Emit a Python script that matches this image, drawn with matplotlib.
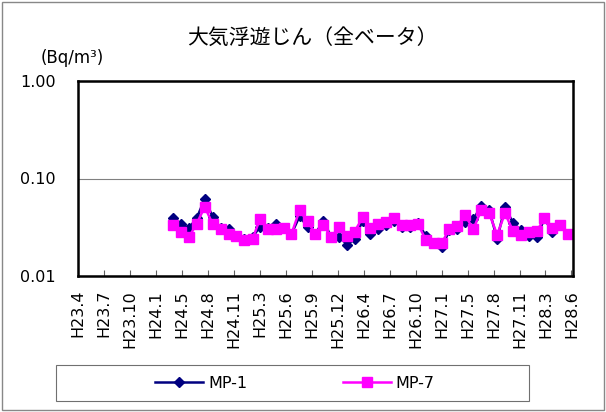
import matplotlib
matplotlib.use("Agg")
import matplotlib.pyplot as plt
import matplotlib.dates as mdates
from matplotlib.patches import Rectangle
from matplotlib.lines import Line2D
import numpy as np
import pandas as pd

# monthly sampling, H24.4 (2012-04) .. H28.6 (2016-06)
months = pd.date_range("2012-04-01", periods=51, freq="MS")

mp1 = [0.039, 0.034, 0.031, 0.039, 0.062, 0.040, 0.031, 0.030, 0.026, 0.024,
       0.025, 0.032, 0.031, 0.034, 0.031, 0.027, 0.041, 0.032, 0.027, 0.037,
       0.025, 0.025, 0.021, 0.024, 0.037, 0.027, 0.030, 0.033, 0.037, 0.032,
       0.032, 0.035, 0.0255, 0.022, 0.020, 0.0295, 0.030, 0.036, 0.038, 0.052,
       0.048, 0.024, 0.051, 0.035, 0.0295, 0.0255, 0.025, 0.039, 0.028, 0.033,
       0.027]
mp7 = [0.0335, 0.028, 0.025, 0.0345, 0.051, 0.034, 0.030, 0.027, 0.026, 0.0235,
       0.024, 0.038, 0.0305, 0.0305, 0.031, 0.027, 0.047, 0.0365, 0.027, 0.0335,
       0.025, 0.032, 0.026, 0.0285, 0.040, 0.031, 0.034, 0.0355, 0.0395, 0.0335,
       0.0335, 0.0338, 0.0232, 0.022, 0.022, 0.0307, 0.0328, 0.042, 0.030, 0.047,
       0.044, 0.0265, 0.044, 0.029, 0.0265, 0.0285, 0.029, 0.039, 0.031, 0.0335,
       0.027]

tick_labels = ["H23.4", "H23.7", "H23.10", "H24.1", "H24.5", "H24.8", "H24.11",
               "H25.3", "H25.6", "H25.9", "H25.12", "H26.4", "H26.7", "H26.10",
               "H27.1", "H27.5", "H27.8", "H27.11", "H28.3", "H28.6"]
y_ticks = [0.01, 0.1, 1.0]
y_tick_labels = ["0.01", "0.10", "1.00"]

title = "大気浮遊じん（全ベータ）"
unit = "(Bq/m³)"

# date axis: 100-day major unit starting H23.4.1
axis_start = pd.Timestamp("2011-04-01")
tick_dates = [axis_start + pd.Timedelta(days=100 * i) for i in range(len(tick_labels))]

plt.rcParams["font.family"] = ["DejaVu Sans"]

fig = plt.figure(figsize=(6.06, 4.12), dpi=100)
ax = fig.add_axes([78 / 606, 1 - 276 / 412, 495 / 606, 195 / 412])

ax.plot(months, mp1, color="#000080", marker="D", markersize=5.5, linewidth=1.8,
        label="MP-1")
ax.plot(months, mp7, color="#FF00FF", marker="s", markersize=7, linewidth=1.8,
        label="MP-7")

ax.set_yscale("log")
ax.set_ylim(0.01, 1.0)
ax.set_yticks(y_ticks)
ax.set_yticklabels(y_tick_labels)
ax.yaxis.set_minor_locator(matplotlib.ticker.NullLocator())
ax.grid(True, axis="y", color="#808080", linewidth=0.8)
ax.tick_params(axis="y", length=0, pad=16, labelsize=11.5)

ax.set_xlim(mdates.date2num(tick_dates[0]), mdates.date2num(tick_dates[-1]) + 6)
ax.set_xticks([mdates.date2num(d) for d in tick_dates])
ax.set_xticklabels(tick_labels, rotation=90, va="top", ha="center")
ax.tick_params(axis="x", direction="in", length=4, width=0.8, pad=10,
               labelsize=11.5, color="#606060")

for s in ax.spines.values():
    s.set_linewidth(1.8)
    s.set_color("black")

fig.text(312 / 606, 1 - 38 / 412, title, ha="center", va="center", fontsize=15,
         family=["Noto Sans CJK JP", "DejaVu Sans"])
fig.text(72 / 606, 1 - 58 / 412, unit, ha="center", va="center", fontsize=12)

# legend box
fig.add_artist(Rectangle((56 / 606, 1 - 401 / 412), 473 / 606, 36 / 412,
                         transform=fig.transFigure, fill=False,
                         edgecolor="#707070", linewidth=0.8))
handles = [Line2D([], [], color="#000080", marker="D", markersize=5, linewidth=1.8),
           Line2D([], [], color="#FF00FF", marker="s", markersize=7, linewidth=1.8)]
fig.legend(handles, ["MP-1", "MP-7"], loc="center", ncol=2,
           bbox_to_anchor=(295 / 606, 1 - 383 / 412), frameon=False,
           fontsize=11.5, handlelength=3.0, handletextpad=0.3, columnspacing=6.0)

# chart area border
fig.add_artist(Rectangle((2 / 606, 2 / 412), 602 / 606, 408 / 412,
                         transform=fig.transFigure, fill=False,
                         edgecolor="#888888", linewidth=1.0))

fig.savefig("out.png", dpi=100)
